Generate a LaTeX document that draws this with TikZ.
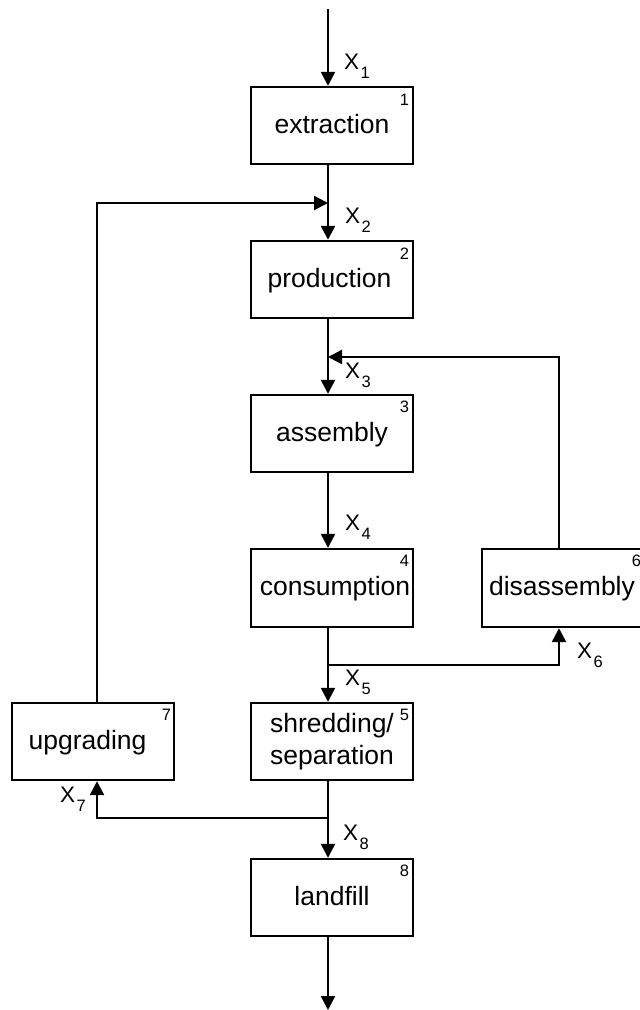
\documentclass[tikz,border=0pt]{standalone}
\usepackage{fontspec}
\setmainfont{Liberation Sans}
\usetikzlibrary{arrows.meta}
% flow variable X with a lowered index
\newcommand\flowvar[1]{X\raisebox{-9pt}{\fontsize{16.5}{16.5}\selectfont\kern1.5pt #1}}

\begin{document}
\begin{tikzpicture}[x=1pt,y=-1pt,
  box/.style={draw, line width=2.4pt, rectangle, inner sep=0pt,
    minimum width=162pt, minimum height=77pt,
    font=\fontsize{26.5}{32}\selectfont, align=center},
  oneline/.style={text height=20pt, text depth=5pt},
  num/.style={inner sep=0pt, anchor=north east, font=\fontsize{16.5}{16.5}\selectfont},
  lab/.style={inner sep=0pt, anchor=base west, font=\fontsize{22.5}{22.5}\selectfont},
  flow/.style={line width=2.4pt, -{Triangle[length=14pt,width=14pt]}}]
\useasboundingbox (0,0) rectangle (640,1010);

% process boxes
\node[box,oneline] (e) at (332,125.5) {extraction};
\node[box,oneline] (p) at (332,279.5) {production\hspace*{5pt}};
\node[box,oneline] (a) at (332,433.5) {assembly};
\node[box,oneline,minimum height=78pt] (c) at (332,588) {\hspace*{6pt}consumption};
\node[box] (s) at (332,741.5) {shredding/\\separation};
\node[box,oneline] (l) at (332,897.5) {landfill};
\node[box,oneline,minimum width=160pt,minimum height=78pt] (d) at (562,588) {disassembly};
\node[box,oneline] (u) at (93,741.5) {upgrading\hspace*{11pt}};

% process numbers
\node[num,xshift=-5pt,yshift=-8pt] (n1) at (e.north east) {1};
\node[num,xshift=-5pt,yshift=-8pt] (n2) at (p.north east) {2};
\node[num,xshift=-5pt,yshift=-7pt] (n3) at (a.north east) {3};
\node[num,xshift=-5pt,yshift=-7pt] (n4) at (c.north east) {4};
\node[num,xshift=-5pt,yshift=-7pt] (n5) at (s.north east) {5};
\node[num,xshift=-2pt,yshift=-7pt] (n6) at (d.north east) {6};
\node[num,xshift=-4pt,yshift=-7pt] (n7) at (u.north east) {7};
\node[num,xshift=-5pt,yshift=-7pt] (n8) at (l.north east) {8};

% junctions and line positions
\coordinate (top) at (328,9);
\coordinate (bot) at (328,1010);
\coordinate (j2) at (328,203);
\coordinate (j3) at (328,357);
\coordinate (j5) at (328,665);
\coordinate (j8) at (328,818);
\coordinate (ux) at (97,0);
\coordinate (dx) at (559,0);

% main chain
\draw[flow] (top) -- (top |- e.north);
\draw[flow] (top |- e.south) -- (top |- p.north);
\draw[flow] (top |- p.south) -- (top |- a.north);
\draw[flow] (top |- a.south) -- (top |- c.north);
\draw[flow] (top |- c.south) -- (top |- s.north);
\draw[flow] (top |- s.south) -- (top |- l.north);
\draw[flow] (top |- l.south) -- (bot);

% branches and return loops
\draw[flow] (j5) -| (d.south -| dx);
\draw[flow] (d.north -| dx) |- (j3);
\draw[flow] (j8) -| (u.south -| ux);
\draw[flow] (u.north -| ux) |- (j2);

% flow labels
\node[lab] (x1) at (344,69) {\flowvar{1}};
\node[lab] (x2) at (345,223) {\flowvar{2}};
\node[lab] (x3) at (345,378) {\flowvar{3}};
\node[lab] (x4) at (345,530) {\flowvar{4}};
\node[lab] (x5) at (345,685) {\flowvar{5}};
\node[lab] (x6) at (577,658) {\flowvar{6}};
\node[lab] (x7) at (60,802) {\flowvar{7}};
\node[lab] (x8) at (343,840) {\flowvar{8}};
\end{tikzpicture}
\end{document}
